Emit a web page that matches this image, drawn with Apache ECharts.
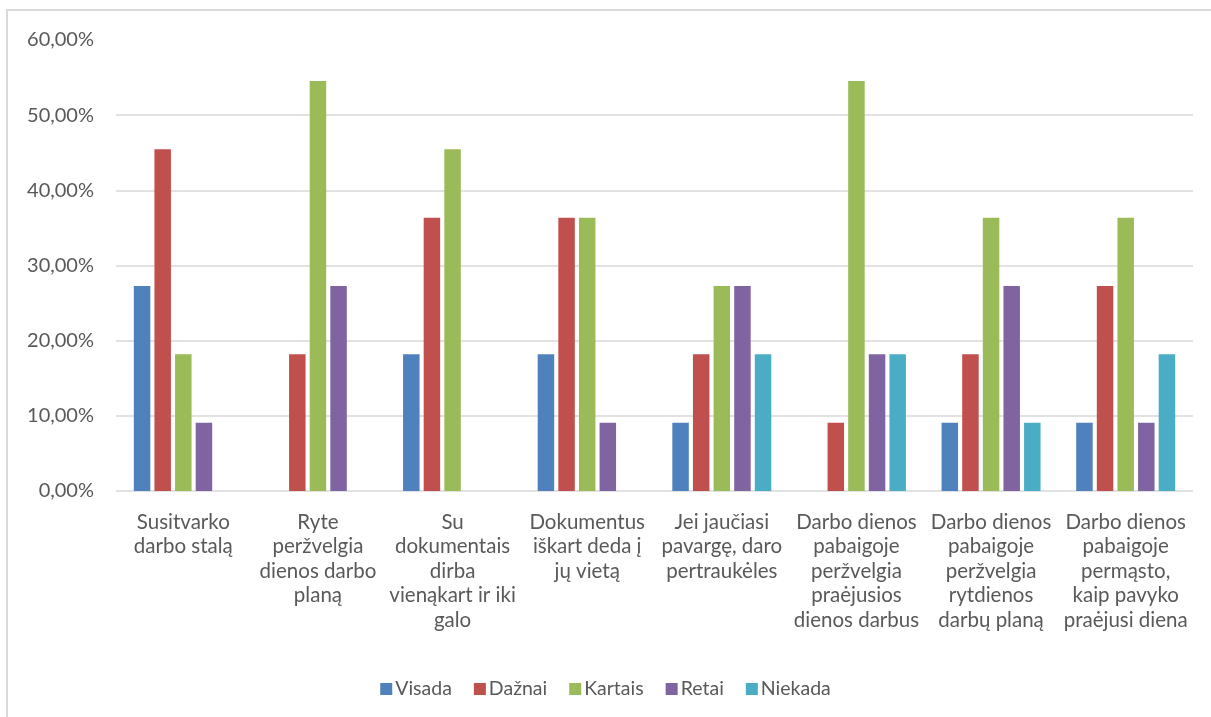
<!DOCTYPE html>
<html>
<head>
<meta charset="utf-8">
<script src="https://cdn.jsdelivr.net/npm/echarts@6/dist/echarts.min.js"></script>
<style>
  html, body { margin: 0; padding: 0; background: #fff; }
  #chart { width: 1211px; height: 717px; }
</style>
</head>
<body>
<div id="chart"></div>
<script>
// Survey answers: share of respondents per habit, in percent
const categories = [
  'Susitvarko\ndarbo stalą',
  'Ryte\nperžvelgia\ndienos darbo\nplaną',
  'Su\ndokumentais\ndirba\nvienąkart ir iki\ngalo',
  'Dokumentus\niškart deda į\njų vietą',
  'Jei jaučiasi\npavargę, daro\npertraukėles',
  'Darbo dienos\npabaigoje\nperžvelgia\npraėjusios\ndienos darbus',
  'Darbo dienos\npabaigoje\nperžvelgia\nrytdienos\ndarbų planą',
  'Darbo dienos\npabaigoje\npermąsto,\nkaip pavyko\npraėjusi diena'
];
const visada  = [27.27, 0,     18.18, 18.18, 9.09,  0,     9.09,  9.09];
const daznai  = [45.45, 18.18, 36.36, 36.36, 18.18, 9.09,  18.18, 27.27];
const kartais = [18.18, 54.55, 45.45, 36.36, 27.27, 54.55, 36.36, 36.36];
const retai   = [9.09,  27.27, 0,     9.09,  27.27, 18.18, 27.27, 9.09];
const niekada = [0,     0,     0,     0,     18.18, 18.18, 9.09,  18.18];
const seriesNames = ['Visada', 'Dažnai', 'Kartais', 'Retai', 'Niekada'];
const seriesData = [visada, daznai, kartais, retai, niekada];
const colors = ['#4F81BD', '#C0504D', '#9BBB59', '#8064A2', '#4BACC6'];

const FONT = 'Lato, "Open Sans", sans-serif';
const TEXT = '#595959';

const chart = echarts.init(document.getElementById('chart'));
chart.setOption({
  animation: false,
  backgroundColor: '#ffffff',
  color: colors,
  graphic: [{
    type: 'rect',
    z: -10,
    silent: true,
    shape: { x: 7, y: 10, width: 1230, height: 740 },
    style: { fill: 'none', stroke: '#d9d9d9', lineWidth: 2 }
  }],
  grid: { left: 116, right: 18, top: 40, bottom: 226 },
  legend: {
    data: seriesNames,
    left: 'center',
    top: 674,
    icon: 'rect',
    itemWidth: 12,
    itemHeight: 12,
    itemGap: 22,
    textStyle: { fontFamily: FONT, fontSize: 19.5, color: TEXT, padding: [0, 0, 0, -2] }
  },
  xAxis: {
    type: 'category',
    data: categories,
    axisLine: { show: false },
    axisTick: { show: false },
    axisLabel: {
      interval: 0,
      margin: 19,
      fontFamily: FONT,
      fontSize: 20.5,
      lineHeight: 24.5,
      color: TEXT,
      align: 'center'
    }
  },
  yAxis: {
    type: 'value',
    min: 0,
    max: 60,
    interval: 10,
    axisLine: { show: false },
    axisTick: { show: false },
    axisLabel: {
      margin: 22,
      fontFamily: FONT,
      fontSize: 20,
      color: TEXT,
      formatter: v => v.toFixed(2).replace('.', ',') + '%'
    },
    splitLine: {
      lineStyle: {
        width: 1.5,
        color: ['#d9d9d9', '#d9d9d9', '#d9d9d9', '#d9d9d9', '#d9d9d9', '#d9d9d9', 'rgba(0,0,0,0)']
      }
    }
  },
  series: seriesNames.map((name, i) => ({
    name,
    type: 'bar',
    data: seriesData[i],
    barWidth: 16.5,
    barGap: '25%',
    itemStyle: { color: colors[i] }
  }))
});
</script>
</body>
</html>
